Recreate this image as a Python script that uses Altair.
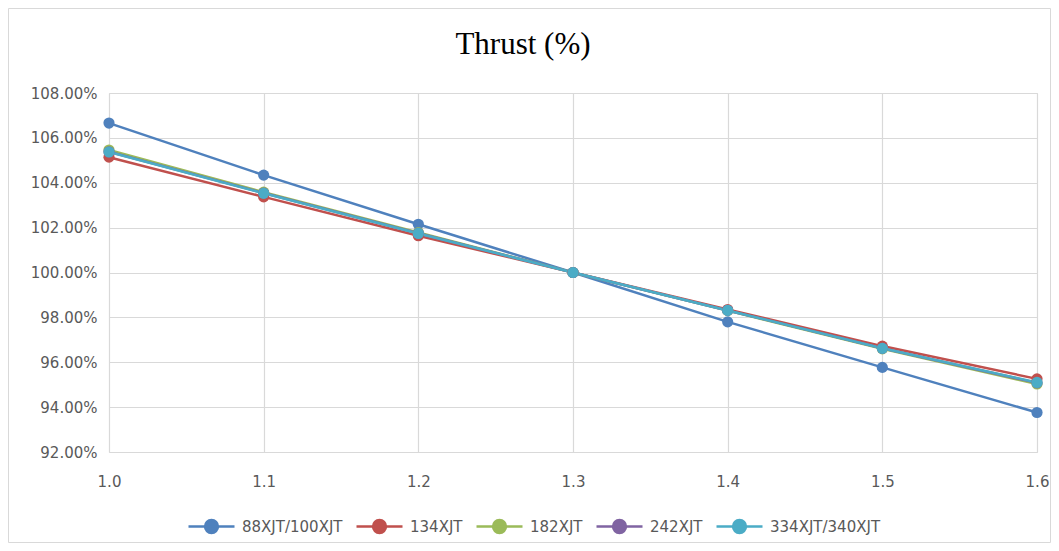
import altair as alt
import pandas as pd

x_vals = [1.0, 1.1, 1.2, 1.3, 1.4, 1.5, 1.6]
series_names = ["88XJT/100XJT", "134XJT", "182XJT", "242XJT", "334XJT/340XJT"]
s_88 = [1.0666, 1.0434, 1.0215, 1.0000, 0.9780, 0.9577, 0.9376]
s_134 = [1.0514, 1.0337, 1.0164, 1.0000, 0.9835, 0.9672, 0.9526]
s_182 = [1.0546, 1.0358, 1.0178, 1.0000, 0.9830, 0.9660, 0.9503]
s_242 = [1.0538, 1.0354, 1.0175, 1.0000, 0.9831, 0.9662, 0.9508]
s_334 = [1.0537, 1.0353, 1.0174, 1.0000, 0.9831, 0.9662, 0.9510]
colors = ["#4F81BD", "#C0504D", "#9BBB59", "#8064A2", "#4BACC6"]
y_ticks = [0.92, 0.94, 0.96, 0.98, 1.00, 1.02, 1.04, 1.06, 1.08]
title_text = "Thrust (%)"

rows = []
for name, vals in zip(series_names, [s_88, s_134, s_182, s_242, s_334]):
    for xv, yv in zip(x_vals, vals):
        rows.append({"x": xv, "y": yv, "series": name})
df = pd.DataFrame(rows)

W, H = 928, 359
PL, PT, PR, PB = 101, 85, 14, 91

sym = "M-1,0H1M0.28,0A0.28,0.28 0 1,1 -0.28,0A0.28,0.28 0 1,1 0.28,0Z"

color = alt.Color(
    "series:N",
    scale=alt.Scale(domain=series_names, range=colors),
    legend=alt.Legend(
        title=None, orient="none", direction="horizontal", columns=5,
        legendX=78, legendY=409, symbolType=sym, symbolSize=2116,
        symbolStrokeWidth=2.5, labelFontSize=15, labelFont="DejaVu Sans",
        labelColor="#595959", columnPadding=8, labelOffset=6,
    ),
)

lines = alt.Chart(df).mark_line(
    strokeWidth=2.5,
    point=alt.OverlayMarkDef(filled=True, size=125, opacity=1),
).encode(
    x=alt.X("x:Q", scale=alt.Scale(domain=[1.0, 1.6], nice=False),
            axis=alt.Axis(values=x_vals, format=".1f", title=None, ticks=False,
                          labelPadding=22, domain=False, labelFlush=False)),
    y=alt.Y("y:Q", scale=alt.Scale(domain=[0.92, 1.08], nice=False),
            axis=alt.Axis(values=y_ticks, format=".2%", title=None, ticks=False,
                          labelPadding=12, domain=False, labelFlush=False)),
    color=color,
    order=alt.Order("x:Q"),
)

frame = alt.Chart(pd.DataFrame({"a": [0]})).mark_rect(
    fill=None, stroke="#d9d9d9", strokeWidth=1, clip=False
).encode(
    x=alt.value(-PL + 0.5), x2=alt.value(W + PR - 0.5),
    y=alt.value(-PT + 0.5), y2=alt.value(H + PB - 0.5),
)

title = alt.Chart(pd.DataFrame({"t": [title_text]})).mark_text(
    font="Liberation Serif", fontSize=31, color="#000000",
    align="center", baseline="middle", clip=False
).encode(
    text="t:N", x=alt.value(W / 2 - 50), y=alt.value(-48),
)

chart = alt.layer(frame, lines, title).properties(
    width=W, height=H,
    padding={"left": PL, "top": PT, "right": PR, "bottom": PB},
    autosize=alt.AutoSizeParams(type="none"),
).configure_axis(
    labelFont="DejaVu Sans", labelFontSize=15, labelColor="#595959",
    gridColor="#d9d9d9", gridWidth=1.2,
).configure_view(stroke="#d9d9d9")

chart.save("out.html", embed_options={"renderer": "svg", "actions": False})
